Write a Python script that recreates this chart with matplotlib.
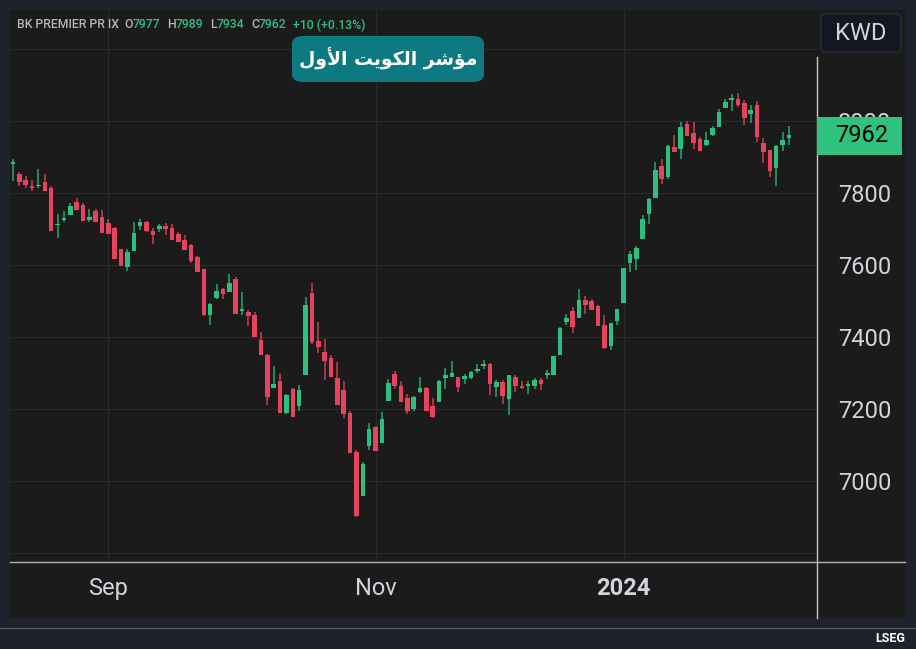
import numpy as np
import matplotlib.pyplot as plt
from matplotlib.patches import FancyBboxPatch, Rectangle
from matplotlib.lines import Line2D

# بيانات الشموع اليومية (مقروءة من الصورة)
opens = [7880, 7853, 7836, 7819, 7818, 7831, 7815, 7712, 7725, 7738,
         7776, 7766, 7725, 7749, 7732, 7716, 7703, 7643, 7595, 7638,
         7707, 7720, 7695, 7701, 7707, 7703, 7686, 7668, 7654, 7621,
         7589, 7462, 7507, 7533, 7524, 7561, 7473, 7469, 7460, 7392,
         7349, 7257, 7278, 7188, 7256, 7208, 7295, 7523, 7389, 7357,
         7342, 7287, 7252, 7189, 7081, 6959, 7097, 7151, 7106, 7222,
         7297, 7265, 7230, 7200, 7248, 7259, 7207, 7219, 7287, 7290,
         7289, 7282, 7287, 7306, 7318, 7325, 7260, 7276, 7227, 7290,
         7265, 7263, 7265, 7281, 7293, 7295, 7350, 7442, 7471, 7454,
         7502, 7499, 7486, 7433, 7374, 7443, 7494, 7604, 7616, 7673,
         7742, 7785, 7876, 7845, 7928, 7921, 7991, 7966, 7949, 7932,
         7962, 7984, 8035, 8057, 8061, 8050, 8020, 8045, 7939, 7918,
         7870, 7932, 7952]
highs = [7894, 7858, 7847, 7836, 7867, 7853, 7818, 7742, 7750, 7771,
         7787, 7771, 7756, 7755, 7752, 7727, 7706, 7643, 7645, 7720,
         7728, 7722, 7703, 7714, 7716, 7714, 7692, 7684, 7658, 7625,
         7589, 7494, 7547, 7537, 7575, 7566, 7524, 7475, 7469, 7414,
         7353, 7319, 7300, 7241, 7259, 7266, 7512, 7551, 7442, 7394,
         7349, 7331, 7279, 7194, 7086, 7053, 7162, 7154, 7192, 7284,
         7306, 7279, 7241, 7236, 7290, 7262, 7230, 7281, 7314, 7332,
         7289, 7296, 7306, 7325, 7335, 7327, 7281, 7281, 7295, 7295,
         7277, 7277, 7285, 7285, 7308, 7347, 7428, 7463, 7483, 7532,
         7514, 7505, 7489, 7461, 7439, 7477, 7591, 7640, 7652, 7739,
         7787, 7886, 7894, 7933, 7961, 7996, 7999, 7996, 7955, 7969,
         7986, 8032, 8062, 8075, 8078, 8058, 8045, 8056, 7952, 7918,
         7933, 7970, 7986]
lows = [7834, 7820, 7815, 7804, 7815, 7804, 7695, 7676, 7720, 7738,
        7752, 7722, 7720, 7719, 7690, 7687, 7617, 7597, 7582, 7638,
        7697, 7692, 7659, 7692, 7684, 7668, 7665, 7641, 7605, 7579,
        7459, 7432, 7505, 7505, 7524, 7465, 7461, 7431, 7399, 7351,
        7211, 7257, 7190, 7186, 7179, 7193, 7295, 7381, 7356, 7280,
        7290, 7212, 7176, 7079, 6901, 6959, 7086, 7083, 7106, 7222,
        7255, 7219, 7186, 7193, 7245, 7193, 7176, 7219, 7255, 7290,
        7248, 7270, 7284, 7300, 7311, 7239, 7232, 7215, 7184, 7248,
        7255, 7241, 7255, 7252, 7284, 7295, 7350, 7432, 7412, 7454,
        7464, 7475, 7431, 7366, 7363, 7433, 7494, 7579, 7586, 7673,
        7714, 7785, 7825, 7839, 7915, 7894, 7957, 7922, 7916, 7930,
        7957, 7984, 8035, 8027, 8038, 7990, 7993, 7941, 7884, 7843,
        7820, 7916, 7932]
closes = [7885, 7829, 7822, 7815, 7823, 7804, 7695, 7714, 7730, 7763,
          7752, 7722, 7732, 7719, 7690, 7687, 7617, 7597, 7637, 7689,
          7720, 7695, 7682, 7707, 7700, 7669, 7665, 7641, 7611, 7579,
          7461, 7491, 7529, 7518, 7550, 7465, 7477, 7457, 7399, 7351,
          7233, 7268, 7190, 7238, 7179, 7252, 7488, 7385, 7371, 7332,
          7290, 7212, 7187, 7079, 6903, 7048, 7143, 7083, 7172, 7271,
          7264, 7219, 7195, 7232, 7257, 7193, 7179, 7278, 7293, 7300,
          7261, 7292, 7303, 7312, 7325, 7269, 7276, 7236, 7293, 7263,
          7257, 7269, 7281, 7270, 7301, 7347, 7425, 7452, 7429, 7502,
          7488, 7475, 7431, 7369, 7439, 7477, 7591, 7630, 7648, 7727,
          7784, 7863, 7839, 7931, 7915, 7982, 7957, 7940, 7916, 7946,
          7980, 8026, 8053, 8064, 8044, 8009, 8029, 7955, 7913, 7862,
          7929, 7946, 7962]

month_ticks = [15, 57, 96]
month_labels = ["Sep", "Nov", "2024"]
price_ticks = [6800, 7000, 7200, 7400, 7600, 7800, 8000, 8200]
price_labels = ["", "7000", "7200", "7400", "7600", "7800", "8000", ""]
last_price = "7962"
title_ar = "\uFEDD\uFEED\uFEF7\uFE8D \uFE96\uFEF3\uFEEE\uFEDC\uFEDF\uFE8D \uFEAE\uFEB7\uFE86\uFEE3"  # مؤشر الكويت الأول

UP = "#2bc080"
DOWN = "#e8435e"
BG = "#1b1b1b"
FRAME = "#1e222d"
GRID = "#2a2a2a"
TXT = "#d1d4dc"

W, H = 916, 649
fig = plt.figure(figsize=(W / 100, H / 100), dpi=100, facecolor=FRAME)


def fx(px):
    return px / W


def fy(py):
    return 1 - py / H


# لوحة الرسم الداكنة
fig.add_artist(Rectangle((fx(10), fy(618)), fx(905) - fx(10), fy(10) - fy(618),
                         transform=fig.transFigure, facecolor=BG, edgecolor="none", zorder=-5))

ax = fig.add_axes([fx(10), fy(562), fx(816) - fx(10), fy(10) - fy(562)])
ax.set_facecolor(BG)
for s in ax.spines.values():
    s.set_visible(False)

o = np.array(opens)
h = np.array(highs)
l = np.array(lows)
c = np.array(closes)
idx = np.arange(len(o))
up = c >= o
colors = np.where(up, UP, DOWN)

ax.vlines(idx, l, h, colors=colors, linewidth=1.1, alpha=0.85, zorder=2)
body_bottom = np.minimum(o, c)
body_h = np.maximum(np.abs(c - o), 3)
ax.bar(idx, body_h, bottom=body_bottom, width=0.72, color=colors, edgecolor="none", zorder=3)

ax.set_xlim(-0.472, 126.26)
ax.set_ylim(6775, 8308)

ax.set_xticks(month_ticks)
ax.set_xticklabels(month_labels, fontfamily="Roboto", fontsize=17, color=TXT)
ax.get_xticklabels()[2].set_fontweight("bold")
ax.yaxis.tick_right()
ax.set_yticks(price_ticks)
ax.set_yticklabels(price_labels, fontfamily="Roboto", fontsize=17, color=TXT)
ax.tick_params(axis="x", length=0, pad=11)
ax.tick_params(axis="y", length=0, pad=16)
ax.grid(True, color=GRID, linewidth=1)
ax.set_axisbelow(True)

# خطوط المحاور
fig.add_artist(Line2D([fx(10), fx(905)], [fy(562), fy(562)], transform=fig.transFigure,
                      color="#b5b5b5", linewidth=1))
fig.add_artist(Line2D([fx(817), fx(817)], [fy(57), fy(618)], transform=fig.transFigure,
                      color="#c8c8c8", linewidth=1))
fig.add_artist(Line2D([0, 1], [fy(628), fy(628)], transform=fig.transFigure,
                      color="#565a66", linewidth=1))

# سطر المعلومات العلوي
hdr = [(17, "BK PREMIER PR IX", "#b2b5be"), (124, "O", "#b2b5be"), (133, "7977", UP),
       (167, "H", "#b2b5be"), (176, "7989", UP), (210, "L", "#b2b5be"), (217, "7934", UP),
       (251, "C", "#b2b5be"), (259, "7962", UP), (293, "+10 (+0.13%)", UP)]
for x, t, col in hdr:
    fig.text(fx(x), fy(25), t, color=col, fontsize=8.8, fontfamily="Roboto",
             fontweight="medium", ha="left", va="center")

# عنوان المؤشر
fig.add_artist(FancyBboxPatch((fx(292), fy(82)), fx(484) - fx(292), fy(36) - fy(82),
                              boxstyle="round,pad=0,rounding_size=0.012",
                              transform=fig.transFigure, facecolor="#0c7a80", edgecolor="none"))
fig.text(fx(388), fy(59), title_ar, color="white", fontsize=13.5, fontweight="bold",
         fontfamily="DejaVu Sans", ha="center", va="center")

# مربع العملة
fig.add_artist(FancyBboxPatch((fx(821), fy(52)), fx(901) - fx(821), fy(14) - fy(52),
                              boxstyle="round,pad=0,rounding_size=0.006",
                              transform=fig.transFigure, facecolor="#131722", edgecolor="#2a2e39"))
fig.text(fx(861), fy(33), "KWD", color=TXT, fontsize=17, fontfamily="Roboto",
         ha="center", va="center")

# آخر سعر
fig.add_artist(Rectangle((fx(817), fy(155)), fx(902) - fx(817), fy(117) - fy(155),
                         transform=fig.transFigure, facecolor="#2ec27e", edgecolor="none", zorder=4))
fig.text(fx(862), fy(136), last_price, color="black", fontsize=17, fontfamily="Roboto",
         ha="center", va="center", zorder=5)

fig.text(fx(905), fy(638), "LSEG", color="white", fontsize=9, fontweight="bold",
         fontfamily="Roboto", ha="right", va="center")

fig.savefig("out.png", dpi=100, facecolor=FRAME)
